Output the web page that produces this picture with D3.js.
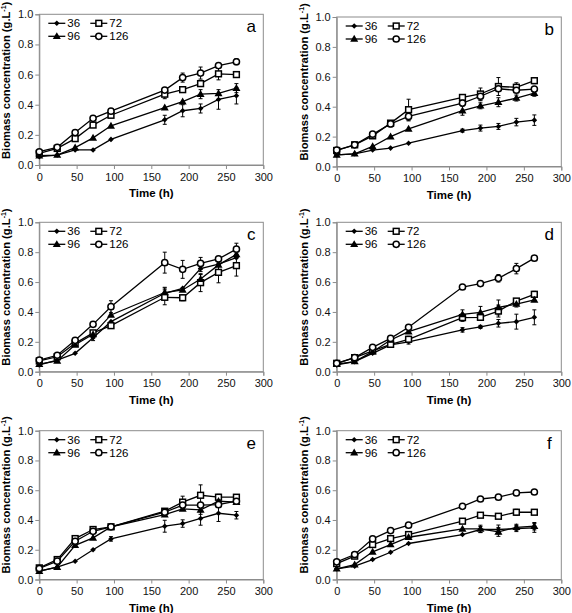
<!DOCTYPE html>
<html><head><meta charset="utf-8">
<script src="https://cdn.jsdelivr.net/npm/d3@7"></script>
<style>
body{margin:0;background:#fff;}
svg text{font-family:"Liberation Sans",Arial,sans-serif;}
</style></head>
<body><svg id="c" width="572" height="613"></svg>
<script>
// ---- data ----
const times = [0, 24, 48, 72, 96, 168, 192, 216, 240, 264];
const seriesNames = ["36", "72", "96", "126"];
const panelLetters = ["a", "b", "c", "d", "e", "f"];
const xTicks = [0, 50, 100, 150, 200, 250, 300];
const yTicks = [0.0, 0.2, 0.4, 0.6, 0.8, 1.0];

// values per panel: [36, 72, 96, 126]
const valuesA = [
  [0.055,0.066,0.10,0.10,0.17,0.30,0.36,0.375,0.435,0.46],
  [0.077,0.11,0.175,0.265,0.33,0.47,0.50,0.54,0.605,0.60],
  [0.062,0.066,0.115,0.18,0.26,0.38,0.42,0.47,0.475,0.51],
  [0.088,0.117,0.215,0.31,0.357,0.497,0.58,0.61,0.66,0.685]];
const errorsA = [
  [0,0,0,0,0,0.03,0.04,0.03,0.065,0.055],
  [0,0,0,0,0,0.03,0,0,0.04,0],
  [0,0,0,0,0,0,0,0.03,0,0.03],
  [0,0,0,0,0,0,0.03,0.04,0,0.02]];
const valuesB = [
  [0.078,0.085,0.11,0.123,0.156,0.24,0.257,0.268,0.297,0.31],
  [0.107,0.145,0.205,0.29,0.38,0.462,0.485,0.535,0.53,0.574],
  [0.078,0.085,0.134,0.20,0.252,0.373,0.406,0.43,0.458,0.49],
  [0.11,0.145,0.216,0.285,0.335,0.424,0.47,0.52,0.51,0.518]];
const errorsB = [
  [0,0,0,0,0,0.01,0.02,0.02,0.025,0.035],
  [0,0,0,0,0.07,0,0.04,0.06,0.03,0.02],
  [0,0,0,0,0,0.03,0.02,0.03,0.02,0.02],
  [0,0,0,0.02,0.03,0,0.03,0,0,0]];
const valuesC = [
  [0.045,0.078,0.123,0.228,0.335,0.525,0.558,0.69,0.72,0.763],
  [0.072,0.10,0.19,0.26,0.308,0.498,0.495,0.596,0.665,0.71],
  [0.05,0.072,0.18,0.25,0.38,0.53,0.547,0.62,0.715,0.785],
  [0.078,0.11,0.21,0.317,0.435,0.73,0.685,0.725,0.755,0.82]];
const errorsC = [
  [0,0,0,0.02,0,0.04,0,0.02,0,0],
  [0,0,0,0,0,0.05,0.02,0.06,0.07,0.07],
  [0,0,0,0,0,0.03,0,0.03,0,0],
  [0,0,0,0,0.04,0.07,0.06,0.04,0,0.04]];
const valuesD = [
  [0.045,0.067,0.123,0.18,0.20,0.28,0.30,0.324,0.335,0.364],
  [0.056,0.094,0.14,0.183,0.217,0.362,0.364,0.406,0.473,0.518],
  [0.05,0.068,0.134,0.212,0.268,0.384,0.397,0.43,0.453,0.48],
  [0.056,0.094,0.163,0.223,0.297,0.567,0.59,0.625,0.69,0.76]];
const errorsD = [
  [0,0,0,0,0.015,0.015,0.01,0.025,0.05,0.05],
  [0,0,0,0,0.02,0.025,0.02,0.04,0,0.02],
  [0,0,0,0,0,0.03,0.04,0.05,0.02,0],
  [0,0,0,0,0,0,0,0.025,0.035,0]];
const valuesE = [
  [0.056,0.083,0.123,0.20,0.273,0.358,0.376,0.41,0.445,0.432],
  [0.078,0.134,0.275,0.336,0.354,0.459,0.52,0.566,0.553,0.553],
  [0.056,0.083,0.23,0.28,0.354,0.436,0.474,0.468,0.526,0.52],
  [0.074,0.123,0.257,0.324,0.354,0.452,0.50,0.50,0.503,0.526]];
const errorsE = [
  [0,0,0,0,0.015,0.04,0.025,0.045,0.055,0.025],
  [0,0,0,0,0,0,0.04,0.07,0.02,0],
  [0,0,0,0,0,0,0,0.03,0,0],
  [0,0,0,0,0,0,0,0,0,0]];
const valuesF = [
  [0.072,0.09,0.134,0.183,0.242,0.302,0.336,0.336,0.342,0.347],
  [0.107,0.157,0.235,0.275,0.302,0.392,0.432,0.425,0.452,0.452],
  [0.072,0.10,0.186,0.235,0.284,0.34,0.34,0.32,0.351,0.358],
  [0.119,0.168,0.273,0.329,0.365,0.492,0.541,0.553,0.582,0.588]];
const errorsF = [
  [0,0,0,0,0,0,0.02,0.03,0.02,0.03],
  [0,0,0,0,0,0.015,0,0,0.02,0],
  [0,0,0,0,0,0,0.025,0.03,0.02,0.025],
  [0,0,0,0,0,0,0,0,0,0]];

const allValues = [valuesA, valuesB, valuesC, valuesD, valuesE, valuesF];
const allErrors = [errorsA, errorsB, errorsC, errorsD, errorsE, errorsF];

// ---- layout ----
const layouts = [
  {l:39.3, r:263.3, t:14.3, b:165},
  {l:336.7, r:561.3, t:17, b:166.5},
  {l:39.3, r:263.3, t:222.3, b:371.7},
  {l:336.7, r:561.3, t:222.3, b:371.7},
  {l:39.3, r:263.3, t:430.7, b:579.5},
  {l:336.7, r:561.3, t:430.7, b:579.5}];

const markerTypes = {"36":"diamond","72":"square","96":"triangle","126":"circle"};
const svg = d3.select("#c");
const gray = "#8c8c8c";

function drawMarker(g, type, x, y) {
  if (type === "diamond") {
    g.append("path").attr("d", d3.symbol(d3.symbolDiamond2, 20)()).attr("transform",`translate(${x},${y})`).attr("fill","#000");
  } else if (type === "triangle") {
    g.append("path").attr("d", d3.symbol(d3.symbolTriangle, 28)()).attr("transform",`translate(${x},${y+0.5})`).attr("fill","#000");
  } else if (type === "square") {
    g.append("rect").attr("x",x-2.9).attr("y",y-2.9).attr("width",5.8).attr("height",5.8).attr("fill","#fff").attr("stroke","#000").attr("stroke-width",1.5);
  } else {
    g.append("circle").attr("cx",x).attr("cy",y).attr("r",3.1).attr("fill","#fff").attr("stroke","#000").attr("stroke-width",1.5);
  }
}

layouts.forEach((L, pi) => {
  const g = svg.append("g");
  const x = d3.scaleLinear().domain([0,300]).range([L.l, L.r]);
  const y = d3.scaleLinear().domain([0,1]).range([L.b, L.t]);

  // frame
  g.append("rect").attr("x",L.l).attr("y",L.t).attr("width",L.r-L.l).attr("height",L.b-L.t)
    .attr("fill","none").attr("stroke",gray).attr("stroke-width",1);

  const xa = g.append("g").attr("transform",`translate(0,${L.b})`)
    .call(d3.axisBottom(x).tickValues(xTicks).tickFormat(d3.format("d")).tickSizeOuter(0).tickSize(4).tickPadding(4));
  const ya = g.append("g").attr("transform",`translate(${L.l},0)`)
    .call(d3.axisLeft(y).tickValues(yTicks).tickFormat(d3.format(".1f")).tickSizeOuter(0).tickSize(4).tickPadding(2));
  [xa, ya].forEach(a => {
    a.select(".domain").attr("stroke",gray);
    a.selectAll(".tick line").attr("stroke",gray);
    a.selectAll(".tick text").attr("font-size",11).attr("fill","#111").attr("font-family","Liberation Sans, Arial, sans-serif");
  });

  g.append("text").attr("x",(L.l+L.r)/2).attr("y",L.b+32).attr("text-anchor","middle")
    .attr("font-size",11.5).attr("font-weight","bold").text("Time (h)");
  const yl = g.append("text").attr("transform",`translate(${L.l-29},${L.b-6}) rotate(-90)`)
    .attr("text-anchor","start").attr("font-size",11.2).attr("font-weight","bold");
  yl.append("tspan").text("Biomass concentration (g.L");
  yl.append("tspan").attr("font-size",7).attr("dy",-4).text("-1");
  yl.append("tspan").attr("dy",4).text(")");

  g.append("text").attr("x",L.r-12).attr("y",L.t+18).attr("text-anchor","middle")
    .attr("font-size",17).text(panelLetters[pi]);

  const vals = allValues[pi], errs = allErrors[pi];
  const line = d3.line().x((d,i)=>x(times[i])).y(d=>y(d));
  // error bars
  vals.forEach((s, si) => {
    s.forEach((v, i) => {
      const e = errs[si][i];
      if (e > 0) {
        const cx = x(times[i]);
        g.append("line").attr("x1",cx).attr("x2",cx).attr("y1",y(v-e)).attr("y2",y(v+e)).attr("stroke","#000").attr("stroke-width",1);
        [v-e, v+e].forEach(w => g.append("line").attr("x1",cx-2).attr("x2",cx+2).attr("y1",y(w)).attr("y2",y(w)).attr("stroke","#000").attr("stroke-width",1));
      }
    });
  });
  vals.forEach((s, si) => {
    g.append("path").attr("d", line(s)).attr("fill","none").attr("stroke","#000").attr("stroke-width",1.3);
  });
  vals.forEach((s, si) => {
    s.forEach((v, i) => drawMarker(g, markerTypes[seriesNames[si]], x(times[i]), y(v)));
  });

  // legend
  seriesNames.forEach((nm, si) => {
    const col = si % 2, row = Math.floor(si / 2);
    const lx = L.l + 9 + col * 42, ly = L.t + 9 + row * 13;
    g.append("line").attr("x1",lx).attr("x2",lx+17).attr("y1",ly).attr("y2",ly).attr("stroke","#000").attr("stroke-width",1.3);
    drawMarker(g, markerTypes[nm], lx+8.5, ly);
    g.append("text").attr("x",lx+19).attr("y",ly+4).attr("font-size",11.5).text(nm);
  });
});
</script></body></html>
